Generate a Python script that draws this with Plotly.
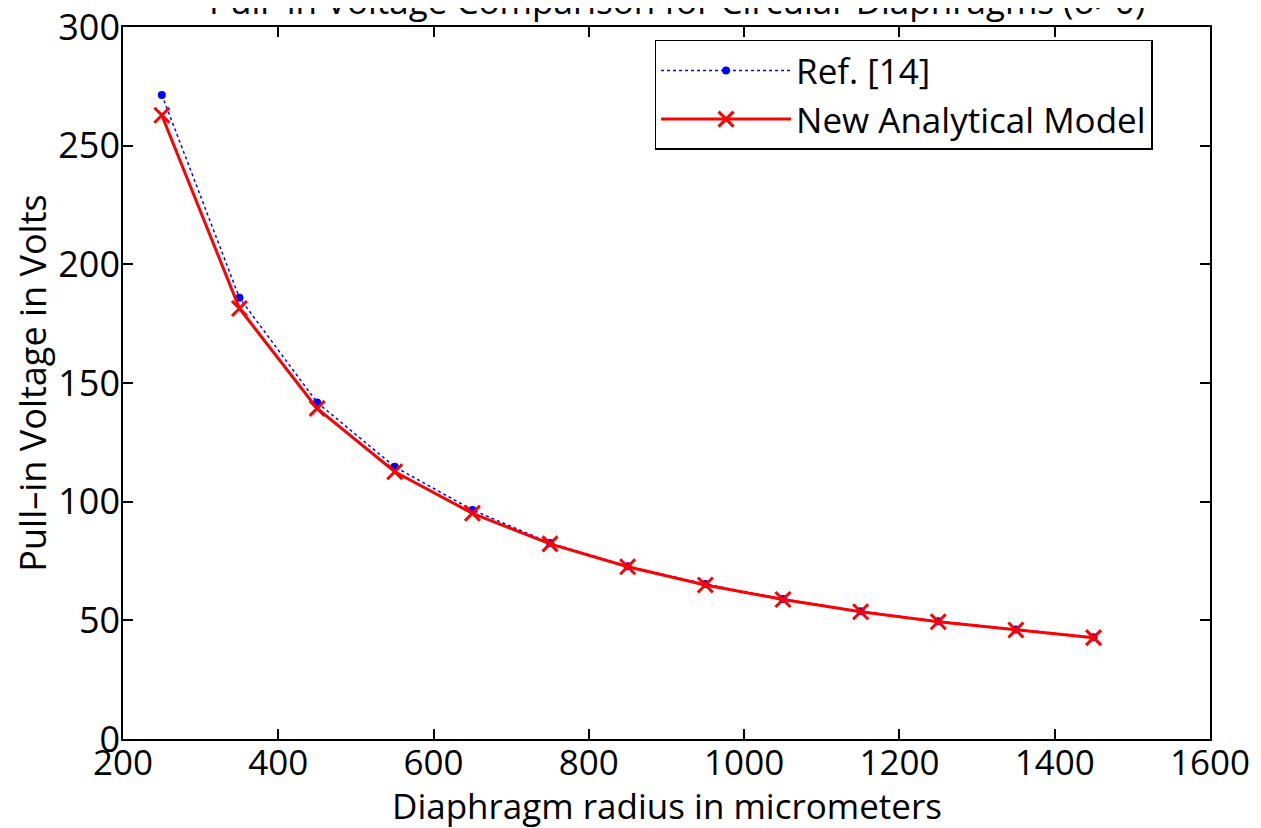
import plotly.graph_objects as go

radius = [250, 350, 450, 550, 650, 750, 850, 950, 1050, 1150, 1250, 1350, 1450]
ref14 = [271.4, 185.9, 141.8, 114.7, 96.5, 82.6, 72.8, 65.3, 59.0, 53.8, 49.6, 46.1, 42.9]
new_model = [262.8, 181.4, 139.3, 112.6, 95.1, 82.2, 72.6, 64.9, 58.8, 53.6, 49.4, 45.9, 42.7]

x_ticks = [200, 400, 600, 800, 1000, 1200, 1400, 1600]
y_ticks = [0, 50, 100, 150, 200, 250, 300]

title_text = "Pull\u2013in Voltage Comparison for Circular Diaphragms (\u03c3>0)"
xlabel = "Diaphragm radius in micrometers"
ylabel = "Pull\u2013in Voltage in Volts"

FONT = "Open Sans, DejaVu Sans, sans-serif"

fig = go.Figure()
fig.add_trace(go.Scatter(
    x=radius, y=ref14, name="Ref. [14]", mode="lines+markers",
    line=dict(color="blue", width=1.5, dash="dot"),
    marker=dict(color="blue", size=8, symbol="circle"),
))
fig.add_trace(go.Scatter(
    x=radius, y=new_model, name="New Analytical Model", mode="lines+markers",
    line=dict(color="red", width=3),
    marker=dict(color="red", size=15, symbol="x-thin", line=dict(color="red", width=3)),
))

fig.update_layout(
    width=1261, height=828,
    margin=dict(l=115, r=59, t=19, b=97, autoexpand=False),
    paper_bgcolor="white", plot_bgcolor="white",
    font=dict(family=FONT, color="black", size=34),
    showlegend=True,
    legend=dict(
        x=0.489, y=0.982, xanchor="left", yanchor="top",
        bgcolor="white", bordercolor="black", borderwidth=1.5,
        font=dict(family=FONT, size=35, color="black"),
        itemwidth=130, tracegroupgap=0,
    ),
    annotations=[
        dict(
            text=title_text, xref="paper", yref="paper", x=0.51, y=1.001,
            xanchor="center", yanchor="bottom", showarrow=False,
            font=dict(family=FONT, size=35, color="black"),
        ),
        dict(
            text=xlabel, xref="paper", yref="paper", x=0.5, y=-0.0927,
            xanchor="center", yanchor="middle", showarrow=False,
            font=dict(family=FONT, size=35, color="black"),
        ),
    ],
)
fig.update_xaxes(
    range=[200, 1600], tickvals=x_ticks, ticktext=[str(v) for v in x_ticks],
    showline=True, linecolor="black", linewidth=1.5, mirror="ticks",
    ticks="inside", ticklen=10, tickcolor="black", tickwidth=1.5,
    showgrid=False, zeroline=False, automargin=False,
    ticklabeloverflow="allow", ticklabelstandoff=-8,
    tickfont=dict(family=FONT, size=35),
)
fig.update_yaxes(
    range=[0, 300], tickvals=y_ticks, ticktext=[str(v) for v in y_ticks],
    showline=True, linecolor="black", linewidth=1.5, mirror="ticks",
    ticks="inside", ticklen=10, tickcolor="black", tickwidth=1.5,
    showgrid=False, zeroline=False, automargin=False,
    ticklabeloverflow="allow", ticklabelstandoff=-6,
    tickfont=dict(family=FONT, size=36),
    title=dict(text=ylabel, font=dict(family=FONT, size=36), standoff=4),
)

fig.write_html("out.html")
